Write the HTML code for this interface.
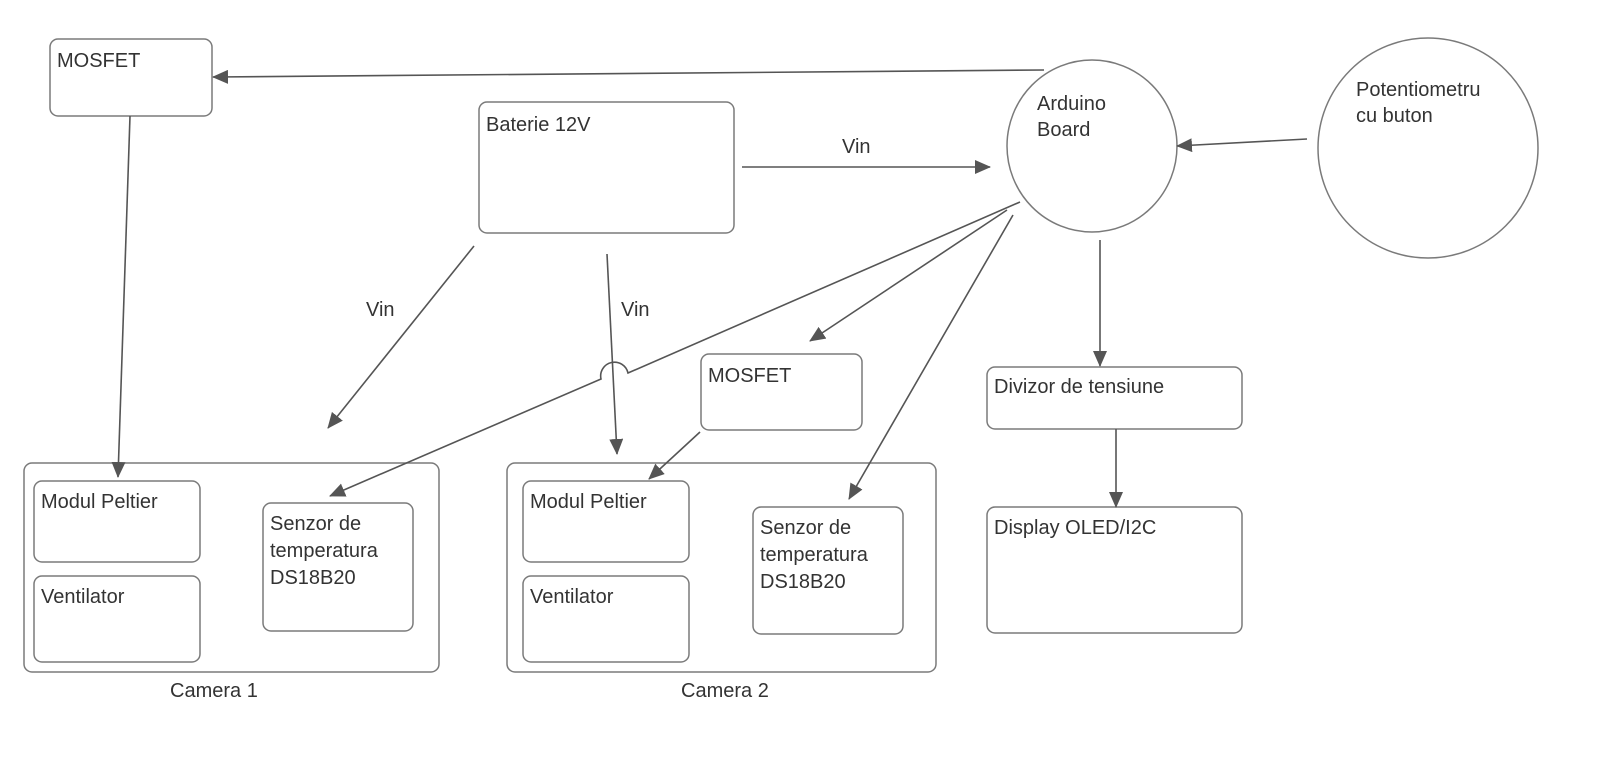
<!DOCTYPE html>
<html><head><meta charset="utf-8"><style>
html,body{margin:0;padding:0;background:#fff;}
svg{display:block;}
text{font-family:"Liberation Sans",Arial,sans-serif;font-size:20px;fill:#333;}
.b{fill:#fff;stroke:#7a7a7a;stroke-width:1.5;}
.l{stroke:#555;stroke-width:1.6;fill:none;}
</style></head><body>
<svg width="1600" height="767" viewBox="0 0 1600 767">
<defs><marker id="a" markerWidth="16" markerHeight="14" refX="15" refY="7" orient="auto" markerUnits="userSpaceOnUse"><path d="M0,0 L16,7 L0,14 z" fill="#555"/></marker></defs>
<rect class="b" x="50" y="39" width="162" height="77" rx="8"/>
<text x="57" y="67">MOSFET</text>
<rect class="b" x="479" y="102" width="255" height="131" rx="8"/>
<text x="486" y="131">Baterie 12V</text>
<ellipse class="b" cx="1092" cy="146" rx="85" ry="86"/>
<text x="1037" y="110">Arduino</text><text x="1037" y="136">Board</text>
<ellipse class="b" cx="1428" cy="148" rx="110" ry="110"/>
<text x="1356" y="96">Potentiometru</text><text x="1356" y="122">cu buton</text>
<rect class="b" x="701" y="354" width="161" height="76" rx="8"/>
<text x="708" y="382">MOSFET</text>
<rect class="b" x="987" y="367" width="255" height="62" rx="8"/>
<text x="994" y="393">Divizor de tensiune</text>
<rect class="b" x="987" y="507" width="255" height="126" rx="8"/>
<text x="994" y="534">Display OLED/I2C</text>
<rect class="b" x="24" y="463" width="415" height="209" rx="8"/>
<text x="170" y="697">Camera 1</text>
<rect class="b" x="34" y="481" width="166" height="81" rx="8"/>
<text x="41" y="508">Modul Peltier</text>
<rect class="b" x="34" y="576" width="166" height="86" rx="8"/>
<text x="41" y="603">Ventilator</text>
<rect class="b" x="263" y="503" width="150" height="128" rx="8"/>
<text x="270" y="530">Senzor de</text><text x="270" y="557">temperatura</text><text x="270" y="584">DS18B20</text>
<rect class="b" x="507" y="463" width="429" height="209" rx="8"/>
<text x="681" y="697">Camera 2</text>
<rect class="b" x="523" y="481" width="166" height="81" rx="8"/>
<text x="530" y="508">Modul Peltier</text>
<rect class="b" x="523" y="576" width="166" height="86" rx="8"/>
<text x="530" y="603">Ventilator</text>
<rect class="b" x="753" y="507" width="150" height="127" rx="8"/>
<text x="760" y="534">Senzor de</text><text x="760" y="561">temperatura</text><text x="760" y="588">DS18B20</text>
<line class="l" x1="1044" y1="70" x2="213" y2="77" marker-end="url(#a)"/>
<line class="l" x1="130" y1="116" x2="118" y2="477" marker-end="url(#a)"/>
<line class="l" x1="742" y1="167" x2="990" y2="167" marker-end="url(#a)"/>
<text x="842" y="153">Vin</text>
<line class="l" x1="474" y1="246" x2="328" y2="428" marker-end="url(#a)"/>
<text x="366" y="316">Vin</text>
<line class="l" x1="607" y1="254" x2="617" y2="454" marker-end="url(#a)"/>
<text x="621" y="316">Vin</text>
<path class="l" d="M1020,202 L628,373 A9,9 0 0 0 601,379 L330,496" marker-end="url(#a)"/>
<line class="l" x1="1007" y1="210" x2="810" y2="341" marker-end="url(#a)"/>
<line class="l" x1="1013" y1="215" x2="849" y2="499" marker-end="url(#a)"/>
<line class="l" x1="700" y1="432" x2="649" y2="479" marker-end="url(#a)"/>
<line class="l" x1="1307" y1="139" x2="1177" y2="146" marker-end="url(#a)"/>
<line class="l" x1="1100" y1="240" x2="1100" y2="366" marker-end="url(#a)"/>
<line class="l" x1="1116" y1="429" x2="1116" y2="507" marker-end="url(#a)"/>
</svg>
</body></html>
